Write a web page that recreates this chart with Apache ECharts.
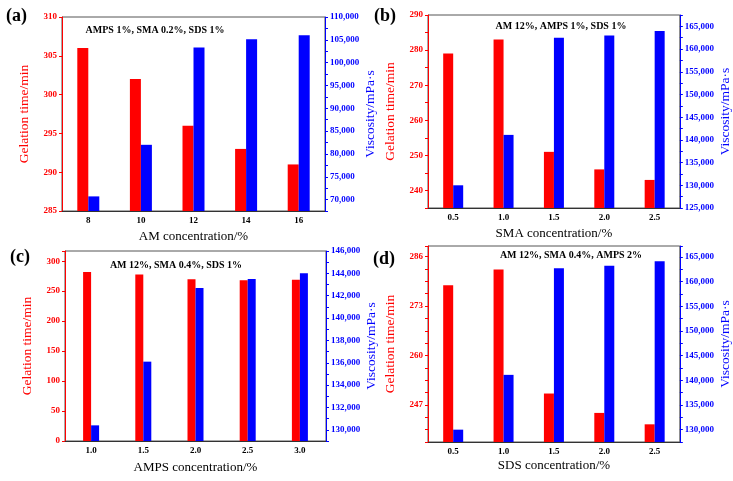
<!DOCTYPE html>
<html>
<head>
<meta charset="utf-8">
<script src="https://cdn.jsdelivr.net/npm/echarts@6/dist/echarts.min.js"></script>
<style>
  html, body { margin: 0; padding: 0; background: #fff; }
  #chart { width: 733px; height: 481px; }
</style>
</head>
<body>
<div id="chart"></div>
<script>
// --- data ---
const amCats = ['8', '10', '12', '14', '16']
const amGel = [306, 302, 296, 293, 291]
const amVisc = [70700, 82000, 103300, 105100, 106000]

const smaCats = ['0.5', '1.0', '1.5', '2.0', '2.5']
const smaGel = [279, 283, 251, 246, 243]
const smaVisc = [130000, 141100, 162500, 163000, 164000]

const ampsCats = ['1.0', '1.5', '2.0', '2.5', '3.0']
const ampsGel = [282, 278, 270, 268, 269]
const ampsVisc = [130400, 136100, 142700, 143500, 144000]

const sdsCats = ['0.5', '1.0', '1.5', '2.0', '2.5']
const sdsGel = [278.5, 282.6, 250, 244.9, 241.9]
const sdsVisc = [130000, 141100, 162700, 163200, 164100]

// tick labels shown on each axis
const gelLabelsA = [285, 290, 295, 300, 305, 310]
const viscLabelsA = [70000, 75000, 80000, 85000, 90000, 95000, 100000, 105000, 110000]
const gelLabelsB = [240, 250, 260, 270, 280, 290]
const viscLabelsB = [125000, 130000, 135000, 140000, 145000, 150000, 155000, 160000, 165000]
const gelLabelsC = [0, 50, 100, 150, 200, 250, 300]
const viscLabelsC = [130000, 132000, 134000, 136000, 138000, 140000, 142000, 144000, 146000]
const gelLabelsD = [247, 260, 273, 286]
const viscLabelsD = [130000, 135000, 140000, 145000, 150000, 155000, 160000, 165000]

const FONT = '"Liberation Serif", "Times New Roman", serif'
const RED = '#ff0000'
const BLUE = '#0000ff'

function pick(labels, fmt) {
  return (v) => (labels.some((l) => Math.abs(l - v) < 1e-6) ? fmt(v) : '')
}
const plain = (v) => String(v)
const comma = (v) => v.toLocaleString('en-US')

const panels = [
  {
    grid: { left: 62, top: 17, width: 263, height: 194 },
    cats: amCats, gel: amGel, visc: amVisc, barWidth: 11,
    xName: 'AM concentration/%', xGap: 19,
    gelAxis: { min: 285, max: 310, interval: 5, labels: gelLabelsA },
    viscAxis: { min: 67500, max: 110000, interval: 2500, labels: viscLabelsA }
  },
  {
    grid: { left: 428, top: 15, width: 252, height: 193 },
    cats: smaCats, gel: smaGel, visc: smaVisc, barWidth: 10,
    xName: 'SMA concentration/%', xGap: 19,
    gelAxis: { min: 235, max: 290, interval: 5, labels: gelLabelsB },
    viscAxis: { min: 125000, max: 167500, interval: 2500, labels: viscLabelsB }
  },
  {
    grid: { left: 65, top: 251, width: 261, height: 190 },
    cats: ampsCats, gel: ampsGel, visc: ampsVisc, barWidth: 8,
    xName: 'AMPS concentration/%', xGap: 20,
    gelAxis: { min: 0, max: 317, interval: 50, labels: gelLabelsC },
    viscAxis: { min: 129000, max: 146000, interval: 1000, labels: viscLabelsC }
  },
  {
    grid: { left: 428, top: 246, width: 254, height: 196 },
    cats: sdsCats, gel: sdsGel, visc: sdsVisc, barWidth: 10,
    xName: 'SDS concentration/%', xGap: 17,
    gelAxis: { min: 237.25, max: 288.8, interval: 3.25, labels: gelLabelsD },
    viscAxis: { min: 127500, max: 167200, interval: 2500, labels: viscLabelsD }
  }
]

const grids = []
const xAxes = []
const yAxes = []
const series = []

panels.forEach((p, i) => {
  grids.push({ ...p.grid, show: true, borderColor: '#555', borderWidth: 1 })

  xAxes.push({
    type: 'category',
    gridIndex: i,
    data: p.cats,
    name: p.xName,
    nameLocation: 'middle',
    nameGap: p.xGap,
    nameTextStyle: { color: '#000', fontFamily: FONT, fontSize: 13 },
    axisLine: { lineStyle: { color: '#333', width: 1 } },
    axisTick: { inside: true, length: 3, lineStyle: { color: '#333' } },
    axisLabel: { color: '#000', fontFamily: FONT, fontWeight: 'bold', fontSize: 9, margin: 5 },
    splitLine: { show: false }
  })

  yAxes.push({
    type: 'value',
    gridIndex: i,
    position: 'left',
    min: p.gelAxis.min,
    max: p.gelAxis.max,
    interval: p.gelAxis.interval,
    name: 'Gelation time/min',
    nameLocation: 'middle',
    nameGap: 31,
    nameTextStyle: { color: RED, fontFamily: FONT, fontSize: 13.5 },
    axisLine: { show: true, lineStyle: { color: RED, width: 1 } },
    axisTick: { show: true, length: 3, lineStyle: { color: RED } },
    axisLabel: {
      color: RED, fontFamily: FONT, fontWeight: 'bold', fontSize: 9, margin: 5,
      formatter: pick(p.gelAxis.labels, plain)
    },
    splitLine: { show: false }
  })

  yAxes.push({
    type: 'value',
    gridIndex: i,
    position: 'right',
    min: p.viscAxis.min,
    max: p.viscAxis.max,
    interval: p.viscAxis.interval,
    name: 'Viscosity/mPa·s',
    nameLocation: 'middle',
    nameGap: 31,
    nameTextStyle: { color: BLUE, fontFamily: FONT, fontSize: 13.5 },
    axisLine: { show: true, lineStyle: { color: BLUE, width: 1 } },
    axisTick: { show: true, length: 3, lineStyle: { color: BLUE } },
    axisLabel: {
      color: BLUE, fontFamily: FONT, fontWeight: 'bold', fontSize: 9, margin: 5,
      formatter: pick(p.viscAxis.labels, comma)
    },
    splitLine: { show: false }
  })

  series.push({
    type: 'bar',
    xAxisIndex: i,
    yAxisIndex: i * 2,
    data: p.gel,
    barWidth: p.barWidth,
    barGap: '0%',
    itemStyle: { color: RED }
  })
  series.push({
    type: 'bar',
    xAxisIndex: i,
    yAxisIndex: i * 2 + 1,
    data: p.visc,
    barWidth: p.barWidth,
    barGap: '0%',
    itemStyle: { color: BLUE }
  })
})

// panel letters and condition notes
const textItem = (text, x, y, size, align) => ({
  type: 'text',
  x,
  y,
  style: {
    text,
    fill: '#000',
    font: 'bold ' + size + 'px ' + FONT,
    textAlign: align,
    textVerticalAlign: 'middle'
  }
})

const chart = echarts.init(document.getElementById('chart'))
chart.setOption({
  animation: false,
  backgroundColor: '#fff',
  grid: grids,
  xAxis: xAxes,
  yAxis: yAxes,
  series,
  graphic: [
    textItem('(a)', 6, 16, 18, 'left'),
    textItem('(b)', 374, 16, 18, 'left'),
    textItem('(c)', 10, 257, 18, 'left'),
    textItem('(d)', 373, 259, 18, 'left'),
    textItem('AMPS 1%, SMA 0.2%, SDS 1%', 155, 30, 10, 'center'),
    textItem('AM 12%, AMPS 1%, SDS 1%', 561, 26, 10, 'center'),
    textItem('AM 12%, SMA 0.4%, SDS 1%', 176, 265, 10, 'center'),
    textItem('AM 12%, SMA 0.4%, AMPS 2%', 571, 255, 10, 'center')
  ]
})
</script>
</body>
</html>
